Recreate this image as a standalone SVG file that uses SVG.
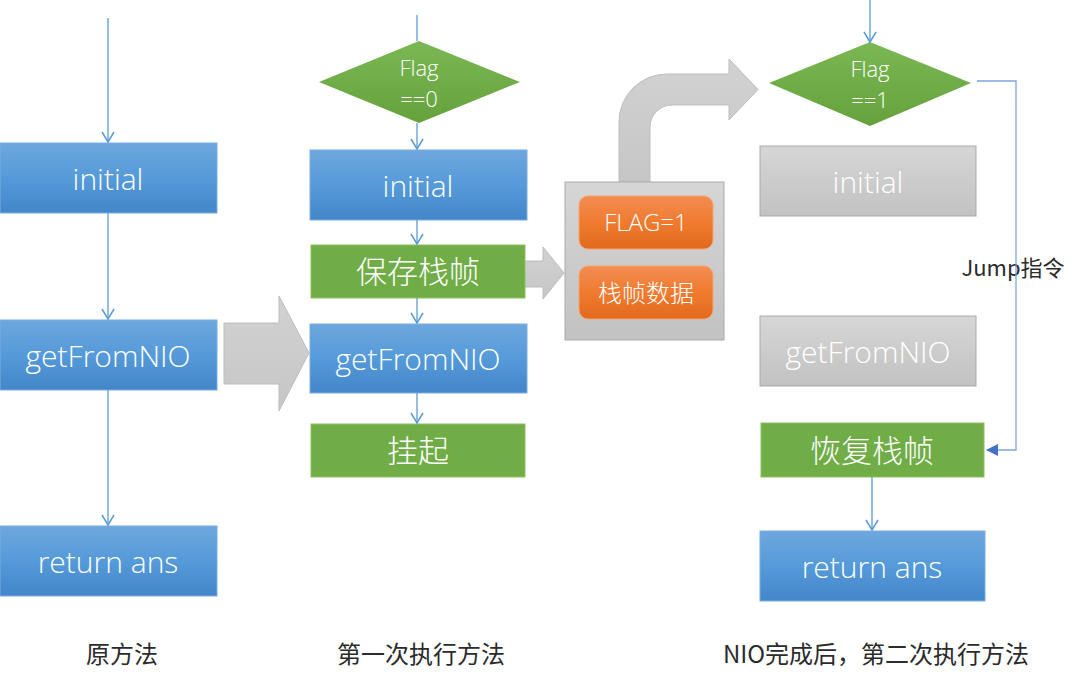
<svg xmlns="http://www.w3.org/2000/svg" width="1080" height="682" viewBox="0 0 1080 682">
<defs>
<linearGradient id="gBlue" x1="0" y1="0" x2="0" y2="1"><stop offset="0" stop-color="#6ea7de"/><stop offset="0.5" stop-color="#559ad9"/><stop offset="1" stop-color="#4386c9"/></linearGradient>
<linearGradient id="gGray" x1="0" y1="0" x2="0" y2="1"><stop offset="0" stop-color="#d6d6d6"/><stop offset="1" stop-color="#c2c2c2"/></linearGradient>
<linearGradient id="gOrange" x1="0" y1="0" x2="0" y2="1"><stop offset="0" stop-color="#f28d52"/><stop offset="0.5" stop-color="#f07b2f"/><stop offset="1" stop-color="#e2691b"/></linearGradient>
<linearGradient id="gDia" x1="0" y1="0" x2="0" y2="1"><stop offset="0" stop-color="#7ab854"/><stop offset="1" stop-color="#65a23c"/></linearGradient>
<linearGradient id="gArrow" x1="0" y1="0" x2="0" y2="1"><stop offset="0" stop-color="#d2d2d2"/><stop offset="1" stop-color="#c6c6c6"/></linearGradient>
<marker id="openArrow" markerWidth="14" markerHeight="14" refX="12" refY="7" orient="auto" markerUnits="userSpaceOnUse" viewBox="0 0 14 14">
<path d="M2 1 L12 7 L2 13" fill="none" stroke="#5b9bd5" stroke-width="1.5"/>
</marker>
<marker id="fillArrow" markerWidth="12" markerHeight="12" refX="11" refY="6" orient="auto" markerUnits="userSpaceOnUse" viewBox="0 0 12 12">
<path d="M0 0 L12 6 L0 12 Z" fill="#4472c4"/>
</marker>
<style>
.blue{fill:url(#gBlue);stroke:#7aaee0;stroke-width:1}
.green{fill:#70ad47;stroke:#8cc063;stroke-width:1}
.gray{fill:url(#gGray);stroke:#a9a9a9;stroke-width:1}
.orange{fill:url(#gOrange);stroke:#f4a574;stroke-width:1}
.dia{fill:url(#gDia)}
.bigarrow{fill:url(#gArrow);stroke:#bdbdbd;stroke-width:1}
.t{font-family:"Open Sans","Noto Sans","Noto Sans CJK SC",sans-serif;font-weight:300;fill:#ffffff;text-anchor:middle}
.cn{font-family:"Noto Sans CJK SC","Noto Sans",sans-serif;font-weight:300;fill:#ffffff;text-anchor:middle}
.lbl{font-family:"Noto Sans CJK SC","Noto Sans",sans-serif;font-weight:400;fill:#2b2b2b;text-anchor:middle;font-size:24px}
.ln{fill:none;stroke:#5b9bd5;stroke-width:1.3}
.ln2{fill:none;stroke:#7aa6e0;stroke-width:1.3}
</style>
</defs>
<rect width="1080" height="682" fill="#ffffff"/>

<!-- big gray arrows -->
<g id="arrow-col1-col2"><path class="bigarrow" d="M224 323 L279 323 L279 296 L309 353 L279 411 L279 384 L224 384 Z"/></g>
<g id="arrow-save-stack"><path class="bigarrow" d="M523 261 L543 261 L543 247 L564 273 L543 299 L543 287 L523 287 Z"/></g>
<g id="arrow-bent"><path class="bigarrow" d="M619 182 L619 122 A48 48 0 0 1 667 74 L729 74 L729 59 L758 89.5 L729 120 L729 105 L672 105 A22 22 0 0 0 650 127 L650 182 Z"/></g>

<!-- Column 1 -->
<g id="c1-initial"><rect class="blue" x="0" y="143" width="217" height="70"/><text class="t" x="108" y="190" font-size="30">initial</text></g>
<g id="c1-getFromNIO"><rect class="blue" x="0" y="320" width="217" height="70"/><text class="t" x="108" y="367" font-size="30">getFromNIO</text></g>
<g id="c1-return"><rect class="blue" x="0" y="526" width="217" height="70"/><text class="t" x="108" y="573" font-size="30">return ans</text></g>

<!-- Column 2 -->
<g id="c2-flag"><polygon class="dia" points="319,82 419,41 520,82 419,123"/><text class="t" x="419" y="76" font-size="22">Flag</text><text class="t" x="419" y="107" font-size="22">==0</text></g>
<g id="c2-initial"><rect class="blue" x="310" y="150" width="217" height="70"/><text class="t" x="418" y="197" font-size="30">initial</text></g>
<g id="c2-save"><rect class="green" x="311" y="245" width="214" height="53"/><text class="cn" x="418" y="283" font-size="31">保存栈帧</text></g>
<g id="c2-getFromNIO"><rect class="blue" x="310" y="324" width="217" height="69"/><text class="t" x="418" y="370" font-size="30">getFromNIO</text></g>
<g id="c2-suspend"><rect class="green" x="311" y="424" width="214" height="53"/><text class="cn" x="418" y="462" font-size="31">挂起</text></g>

<!-- Storage box -->
<g id="stack-box"><rect class="gray" x="565" y="182" width="159" height="158"/></g>
<g id="flag1"><rect class="orange" x="579" y="196" width="134" height="53" rx="9"/><text class="t" x="646" y="231" font-size="24">FLAG=1</text></g>
<g id="stackdata"><rect class="orange" x="579" y="266" width="134" height="53" rx="9"/><text class="cn" x="646" y="302" font-size="24">栈帧数据</text></g>

<!-- Column 3 -->
<g id="c3-flag"><polygon class="dia" points="769,83 870,42 971,83 870,126"/><text class="t" x="870" y="77" font-size="22">Flag</text><text class="t" x="870" y="108" font-size="22">==1</text></g>
<g id="c3-initial"><rect class="gray" x="760" y="146" width="216" height="70"/><text class="t" x="868" y="193" font-size="30" fill="#f4f4f4">initial</text></g>
<g id="c3-getFromNIO"><rect class="gray" x="760" y="316" width="216" height="70"/><text class="t" x="868" y="363" font-size="30">getFromNIO</text></g>
<g id="c3-restore"><rect class="green" x="761" y="423" width="223" height="54"/><text class="cn" x="872" y="462" font-size="31">恢复栈帧</text></g>
<g id="c3-return"><rect class="blue" x="760" y="531" width="225" height="70"/><text class="t" x="872" y="578" font-size="30">return ans</text></g>

<text class="lbl" x="1013" y="276" style="font-size:22px">Jump指令</text>

<!-- Connectors -->
<g id="connectors">
<line class="ln" x1="108" y1="18" x2="108" y2="142" marker-end="url(#openArrow)"/>
<line class="ln" x1="108" y1="213" x2="108" y2="319" marker-end="url(#openArrow)"/>
<line class="ln" x1="108" y1="390" x2="108" y2="525" marker-end="url(#openArrow)"/>
<line class="ln" x1="417" y1="15" x2="417" y2="41"/>
<line class="ln" x1="417" y1="123" x2="417" y2="149" marker-end="url(#openArrow)"/>
<line class="ln" x1="417" y1="220" x2="417" y2="244" marker-end="url(#openArrow)"/>
<line class="ln" x1="417" y1="298" x2="417" y2="323" marker-end="url(#openArrow)"/>
<line class="ln" x1="417" y1="393" x2="417" y2="423" marker-end="url(#openArrow)"/>
<line class="ln" x1="870" y1="0" x2="870" y2="42" marker-end="url(#openArrow)"/>
<polyline class="ln2" points="977,81 1016,81 1016,450 987,450" marker-end="url(#fillArrow)"/>
<line class="ln" x1="872" y1="477" x2="872" y2="530" marker-end="url(#openArrow)"/>
</g>

<!-- Bottom labels -->
<text class="lbl" x="122" y="663">原方法</text>
<text class="lbl" x="421" y="663">第一次执行方法</text>
<text class="lbl" x="876" y="663">NIO完成后，第二次执行方法</text>
</svg>
